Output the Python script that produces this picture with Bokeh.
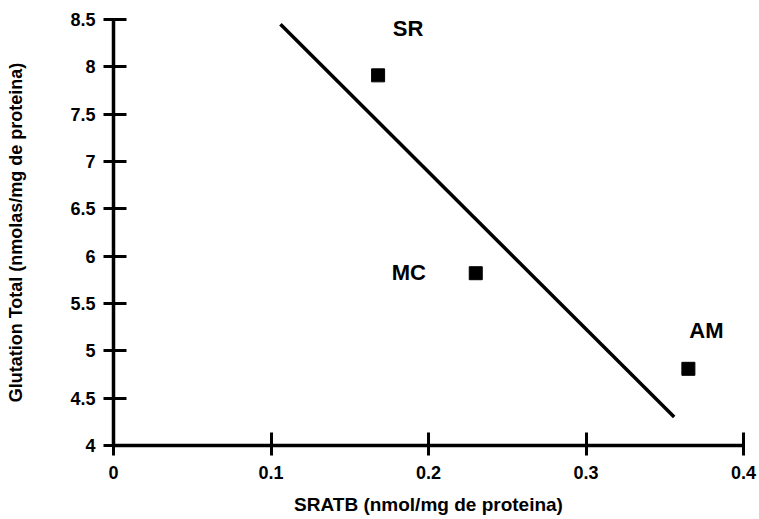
from bokeh.plotting import figure
from bokeh.models import ColumnDataSource, Range1d, FixedTicker
from bokeh.core.properties import value
from bokeh.embed import file_html
from bokeh.resources import INLINE

# data
groups = ["SR", "MC", "AM"]
sratb = [0.168, 0.230, 0.365]
glutation = [7.91, 5.82, 4.81]
fit_x = [0.106, 0.356]
fit_y = [8.45, 4.30]
x_ticks = [0, 0.1, 0.2, 0.3, 0.4]
y_ticks = [4, 4.5, 5, 5.5, 6, 6.5, 7, 7.5, 8, 8.5]

# label placement (screen pixels relative to each point)
lab_dx = [30, -67, 18]
lab_dy = [-47, -1, -38]

FONT = "Liberation Sans"

p = figure(width=759, height=519, output_backend="svg", toolbar_location=None,
           x_range=Range1d(0, 0.4), y_range=Range1d(4, 8.5),
           min_border_left=113, min_border_top=19, min_border_right=16,
           min_border_bottom=74)
p.outline_line_color = None
p.grid.visible = False
p.background_fill_color = "white"
p.border_fill_color = "white"

src = ColumnDataSource(dict(x=sratb, y=glutation, g=groups, dx=lab_dx, dy=lab_dy))

p.line(fit_x, fit_y, line_color="black", line_width=3.5)
p.scatter("x", "y", source=src, marker="square", size=13, fill_color="black",
          line_color="black")
p.text("x", "y", text="g", source=src, x_offset="dx", y_offset="dy",
       text_align="center", text_baseline="middle",
       text_font=value(FONT), text_font_style="bold", text_font_size="22px",
       text_color="black")

for ax in (p.xaxis[0], p.yaxis[0]):
    ax.axis_line_width = 3.5
    ax.axis_line_color = "black"
    ax.major_tick_line_width = 3
    ax.major_tick_line_color = "black"
    ax.major_tick_in = 13
    ax.major_tick_out = 10
    ax.minor_tick_line_color = None
    ax.major_label_text_font = FONT
    ax.major_label_text_font_style = "bold"
    ax.major_label_text_font_size = "18px"
    ax.major_label_text_color = "black"
    ax.axis_label_text_font = FONT
    ax.axis_label_text_font_style = "bold"
    ax.axis_label_text_color = "black"

p.xaxis.axis_label_text_font_size = "19px"
p.yaxis.axis_label_text_font_size = "18px"
p.xaxis.ticker = FixedTicker(ticks=x_ticks)
p.yaxis.ticker = FixedTicker(ticks=y_ticks)
p.xaxis.major_label_overrides = {t: ("0" if t == 0 else str(t)) for t in x_ticks}
p.yaxis.major_label_overrides = {t: ("%g" % t) for t in y_ticks}
p.xaxis.major_label_standoff = 10
p.yaxis.major_label_standoff = 8
p.xaxis.axis_label = "SRATB (nmol/mg de proteina)"
p.yaxis.axis_label = "Glutation Total (nmolas/mg de proteina)"
p.xaxis.axis_label_standoff = 12
p.yaxis.axis_label_standoff = 41

open("out.html", "w").write(file_html(p, INLINE))
